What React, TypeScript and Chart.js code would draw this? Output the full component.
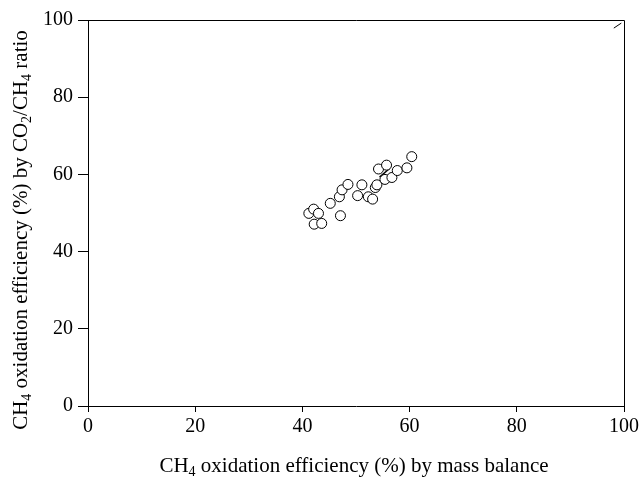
import { useEffect, useRef } from "react";
import { Chart, registerables } from "chart.js";

Chart.register(...registerables);

// CH4 oxidation efficiency (%) by mass balance
const massBalance = [41.2, 42.1, 43.0, 42.2, 43.6, 45.2, 47.1, 46.9, 47.4, 48.5, 50.3, 51.1, 52.3, 53.1, 53.6, 53.9, 54.2, 55.7, 55.4, 56.7, 57.7, 59.5, 60.4];
// CH4 oxidation efficiency (%) by CO2/CH4 ratio
const co2Ratio = [49.9, 51.0, 49.9, 47.1, 47.3, 52.5, 49.3, 54.2, 56.0, 57.4, 54.5, 57.3, 54.2, 53.6, 56.6, 57.3, 61.4, 62.4, 58.7, 59.2, 61.0, 61.7, 64.6];

// visible short fitted segment inside the cluster
const fitX = [54.4, 56.3];
const fitY = [59.3, 61.6];
// visible piece of the 1:1 line in the top-right corner
const oneToOneX = [98.1, 99.5];
const oneToOneY = [97.9, 99.2];

const axisMin = 0;
const axisMax = 100;
const tickStep = 20;

const FONT = "'Liberation Serif', 'Times New Roman', serif";

type Part = [string, boolean];

function drawRich(ctx: CanvasRenderingContext2D, parts: Part[], cx: number, cy: number) {
  const main = `21px ${FONT}`;
  const sub = `14px ${FONT}`;
  let total = 0;
  const widths = parts.map(([t, s]) => {
    ctx.font = s ? sub : main;
    const w = ctx.measureText(t).width;
    total += w;
    return w;
  });
  let x = cx - total / 2;
  ctx.textBaseline = "middle";
  ctx.textAlign = "left";
  ctx.fillStyle = "#000";
  parts.forEach(([t, s], i) => {
    ctx.font = s ? sub : main;
    ctx.fillText(t, x, s ? cy + 6 : cy);
    x += widths[i];
  });
}

const xTitle: Part[] = [["CH", false], ["4", true], [" oxidation efficiency (%) by mass balance", false]];
const yTitle: Part[] = [
  ["CH", false], ["4", true], [" oxidation efficiency (%) by CO", false], ["2", true],
  ["/CH", false], ["4", true], [" ratio", false],
];

const framePlugin = {
  id: "frameAndTitles",
  afterDraw(chart: any) {
    const { ctx, chartArea } = chart;
    const { left, right, top, bottom } = chartArea;
    ctx.save();
    ctx.strokeStyle = "#000";
    ctx.lineWidth = 1;
    ctx.beginPath();
    ctx.moveTo(left, top + 0.5);
    ctx.lineTo(right + 0.5, top + 0.5);
    ctx.lineTo(right + 0.5, bottom);
    ctx.stroke();
    drawRich(ctx, xTitle, 354, 466);
    ctx.translate(21, 230);
    ctx.rotate(-Math.PI / 2);
    drawRich(ctx, yTitle, 0, 0);
    ctx.restore();
  },
};

export default function App() {
  const ref = useRef<HTMLCanvasElement | null>(null);

  useEffect(() => {
    if (!ref.current) return;
    const points = massBalance.map((x, i) => ({ x, y: co2Ratio[i] }));
    const fit = fitX.map((x, i) => ({ x, y: fitY[i] }));
    const one = oneToOneX.map((x, i) => ({ x, y: oneToOneY[i] }));
    const tickFont = { family: FONT, size: 20 };
    const base = {
      type: "linear" as const,
      min: axisMin,
      max: axisMax,
      border: { display: true, color: "#000", width: 1 },
    };
    const chart = new Chart(ref.current, {
      type: "scatter",
      data: {
        datasets: [
          {
            label: "data",
            data: points,
            pointStyle: "circle",
            pointRadius: 5,
            pointBackgroundColor: "#fff",
            pointBorderColor: "#000",
            pointBorderWidth: 1,
            order: 1,
          },
          {
            label: "fit",
            type: "line",
            data: fit,
            borderColor: "#000",
            borderWidth: 1.5,
            pointRadius: 0,
            showLine: true,
            order: 2,
          },
          {
            label: "1:1",
            type: "line",
            data: one,
            borderColor: "#000",
            borderWidth: 1,
            pointRadius: 0,
            showLine: true,
            order: 3,
          },
        ],
      } as any,
      options: {
        animation: false,
        responsive: false,
        maintainAspectRatio: false,
        layout: { padding: { top: 20, right: 16, left: 0, bottom: 0 } },
        plugins: { legend: { display: false }, tooltip: { enabled: false } },
        scales: {
          x: {
            ...base,
            position: "bottom",
            ticks: { stepSize: tickStep, color: "#000", font: tickFont, padding: 3 },
            grid: { drawOnChartArea: false, drawTicks: true, tickLength: 6, color: "#000", lineWidth: 1 },
            afterFit: (s: any) => { s.height = 77; },
          },
          y: {
            ...base,
            position: "left",
            ticks: { stepSize: tickStep, color: "#000", font: tickFont, padding: 5 },
            grid: { drawOnChartArea: false, drawTicks: true, tickLength: 10, color: "#000", lineWidth: 1 },
            afterFit: (s: any) => { s.width = 88; },
          },
        } as any,
      },
      plugins: [framePlugin],
    });
    return () => chart.destroy();
  }, []);

  return (
    <div style={{ position: "fixed", left: 0, top: 0, width: 642, height: 483, background: "#fff" }}>
      <canvas ref={ref} width={642} height={483} style={{ display: "block", width: 642, height: 483 }} />
    </div>
  );
}
